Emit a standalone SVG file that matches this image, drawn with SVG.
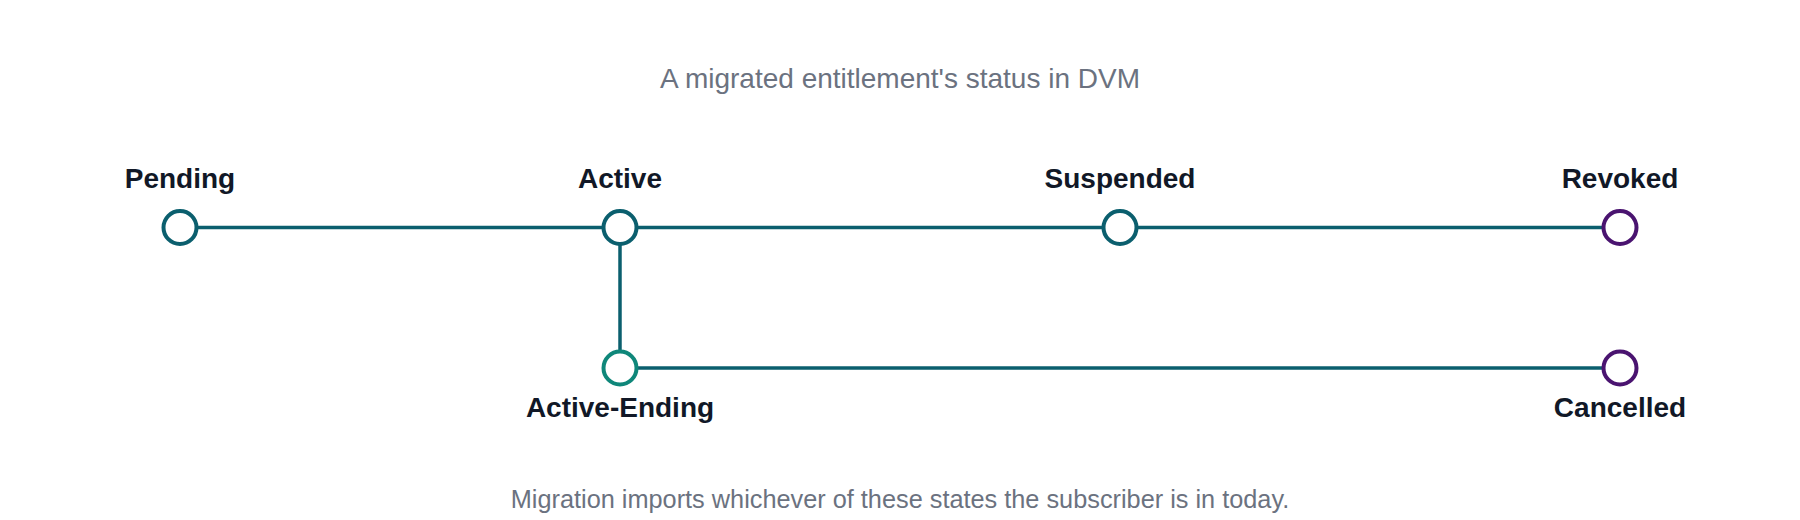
<svg xmlns="http://www.w3.org/2000/svg" width="1800" height="520" viewBox="0 0 1800 520">
  <style>
    .title { font-family: "Liberation Sans", Arial, sans-serif; font-size: 28px; fill: #6b7280; text-anchor: middle; }
    .foot { font-family: "Liberation Sans", Arial, sans-serif; font-size: 25.3px; fill: #6b7280; text-anchor: middle; }
    .lbl { font-family: "Liberation Sans", Arial, sans-serif; font-size: 28px; font-weight: bold; fill: #111827; text-anchor: middle; }
    .edge { stroke: #0b5f6e; stroke-width: 3.5; fill: none; }
    .st { fill: #ffffff; stroke-width: 4; }
    .teal { stroke: #0b5f6e; }
    .green { stroke: #0f877a; }
    .purple { stroke: #4a1470; }
  </style>
  <rect width="1800" height="520" fill="#ffffff"/>
  <text class="title" x="900" y="88">A migrated entitlement's status in DVM</text>
  <g id="connectors">
    <line class="edge" x1="180" y1="227.5" x2="620" y2="227.5"/>
    <line class="edge" x1="620" y1="227.5" x2="1120" y2="227.5"/>
    <line class="edge" x1="1120" y1="227.5" x2="1620" y2="227.5"/>
    <line class="edge" x1="620" y1="227.5" x2="620" y2="368"/>
    <line class="edge" x1="620" y1="368" x2="1620" y2="368"/>
  </g>
  <g id="node-pending">
    <circle class="st teal" cx="180" cy="227.5" r="16.5"/>
    <text class="lbl" x="180" y="188">Pending</text>
  </g>
  <g id="node-active">
    <circle class="st teal" cx="620" cy="227.5" r="16.5"/>
    <text class="lbl" x="620" y="188">Active</text>
  </g>
  <g id="node-suspended">
    <circle class="st teal" cx="1120" cy="227.5" r="16.5"/>
    <text class="lbl" x="1120" y="188">Suspended</text>
  </g>
  <g id="node-revoked">
    <circle class="st purple" cx="1620" cy="227.5" r="16.5"/>
    <text class="lbl" x="1620" y="188">Revoked</text>
  </g>
  <g id="node-active-ending">
    <circle class="st green" cx="620" cy="368" r="16.5"/>
    <text class="lbl" x="620" y="417">Active-Ending</text>
  </g>
  <g id="node-cancelled">
    <circle class="st purple" cx="1620" cy="368" r="16.5"/>
    <text class="lbl" x="1620" y="417">Cancelled</text>
  </g>
  <text class="foot" x="900" y="508">Migration imports whichever of these states the subscriber is in today.</text>
</svg>
